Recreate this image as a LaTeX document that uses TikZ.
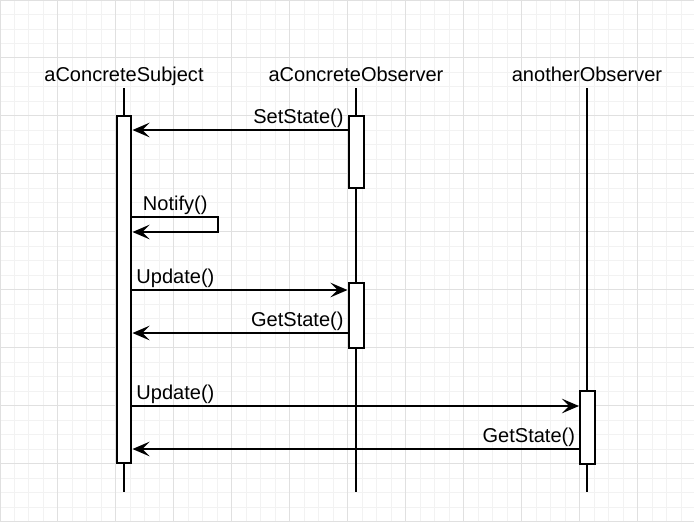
\documentclass[tikz,border=0pt]{standalone}
\usepackage{fontspec}
\setmainfont{Liberation Sans}
\usetikzlibrary{arrows.meta}

\begin{document}
\begin{tikzpicture}[x=0.02cm, y=-0.02cm, line width=0.04cm, font=\fontsize{11.4}{13}\selectfont,
    head node/.style={inner sep=0.04cm, text depth=0.22em, anchor=base},
    bar node/.style={rectangle, draw, fill=white, minimum width=0.3cm, inner sep=0},
    msg/.style={-{Stealth[length=0.34cm, width=0.29cm, inset=0.14cm]}},
    label node/.style={inner xsep=0.06cm, inner ysep=0.035cm}]
\useasboundingbox (0,0) rectangle (694,522);
\draw[step=0.29cm, line width=0.02cm, black!5] (0,0) grid (694,522);
\draw[step=1.16cm, line width=0.02cm, black!12] (0,0) grid (694,522);
\node[head node] (subj) at (124,81.5) {aConcreteSubject};
\node[head node] (obs) at (356,81.5) {aConcreteObserver};
\node[head node] (other) at (587,81.5) {anotherObserver};
\coordinate (subj end) at (124,492);
\coordinate (obs end) at (356,492);
\coordinate (other end) at (587,492);
\draw (subj) -- (subj end);
\draw (obs) -- (obs end);
\draw (other) -- (other end);
\node[bar node, minimum height=6.94cm] (bar1) at (124,289.5) {};
\node[bar node, minimum height=1.44cm] (bar2a) at (356,152) {};
\node[bar node, minimum height=1.3cm] (bar2b) at (356,315.5) {};
\node[bar node, minimum height=1.46cm] (bar3) at (587.5,427.5) {};
\coordinate (loop) at (218,217);
\draw[msg] (bar2a.west |- 0,130) -- node[label node, pos=0, above left]{SetState()} (bar1.east |- 0,130);
\draw[msg] (bar1.east |- loop) -- node[label node, above]{Notify()} (loop) -- (loop |- 0,232) -- (bar1.east |- 0,232);
\draw[msg] (bar1.east |- 0,290) -- node[label node, pos=0, above right]{Update()} (bar2b.west |- 0,290);
\draw[msg] (bar2b.west |- 0,333) -- node[label node, pos=0, above left]{GetState()} (bar1.east |- 0,333);
\draw[msg] (bar1.east |- 0,406) -- node[label node, pos=0, above right]{Update()} (bar3.west |- 0,406);
\draw[msg] (bar3.west |- 0,449) -- node[label node, pos=0, above left]{GetState()} (bar1.east |- 0,449);
\end{tikzpicture}
\end{document}
